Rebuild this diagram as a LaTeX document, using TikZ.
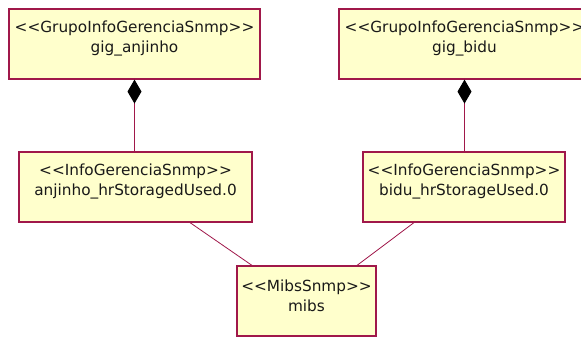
\documentclass[tikz,border=0pt]{standalone}
\usepackage{fontspec}
\setmainfont{DejaVu Sans}[Ligatures=TeXOff]
\usetikzlibrary{arrows.meta,positioning}
\colorlet{background}{white}
\definecolor{penColor}{HTML}{A0184A}
\definecolor{fill1}{HTML}{FFFFCC}
\tikzset{
  classbox/.style={draw=penColor,line width=1.2pt,fill=fill1,minimum height=70pt,inner sep=0pt},
  classtxt/.style={inner sep=0pt,align=center,font=\fontsize{15.3}{20.5}\selectfont,text=black!90},
  compose/.style={penColor,line width=1pt,{Diamond[length=24pt,width=14pt,color=black]}-},
  assoc/.style={penColor,line width=0.8pt}
}

\begin{document}
\begin{tikzpicture}[x=1pt,y=-1pt]
      \clip (0,0) rectangle (581,338);
      \fill [background] (0,0) rectangle (581,338);
      % classes
      \node [classbox,minimum width=251pt] (gigA) at (134.5,44) {};
      \node [classbox,minimum width=251pt] (gigB) at (464.5,44) {};
      \node [classbox,minimum width=233pt] (infoA) at (135.5,187) {};
      \node [classbox,minimum width=202pt] (infoB) at (464,187) {};
      \node [classbox,minimum width=139pt] (mibs) at (306.5,301) {};
      \node [classtxt,below=12pt of gigA.north] {<<GrupoInfoGerenciaSnmp>>\\gig\_anjinho};
      \node [classtxt,below=12pt of gigB.north] {<<GrupoInfoGerenciaSnmp>>\\gig\_bidu};
      \node [classtxt,below=12pt of infoA.north] {<<InfoGerenciaSnmp>>\\anjinho\_hrStoragedUsed.0};
      \node [classtxt,below=12pt of infoB.north] {<<InfoGerenciaSnmp>>\\bidu\_hrStorageUsed.0};
      \node [classtxt,below=14pt of mibs.north] {<<MibsSnmp>>\\mibs};
      % links
      \draw [compose] (gigA.south) -- (infoA.north -| gigA.south);
      \draw [compose] (gigB.south) -- (infoB.north -| gigB.south);
      \draw [assoc] ([xshift=54.5pt]infoA.south) -- ([xshift=-54.5pt]mibs.north);
      \draw [assoc] ([xshift=-50pt]infoB.south) -- ([xshift=50.5pt]mibs.north);
    \end{tikzpicture}
\end{document}
